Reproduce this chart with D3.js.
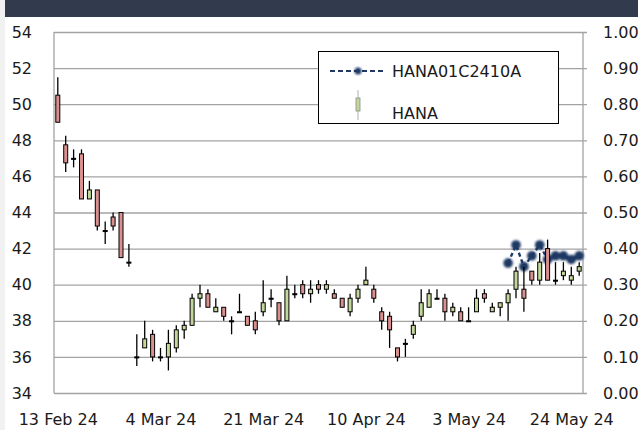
<!DOCTYPE html>
<html>
<head>
<meta charset="utf-8">
<script src="https://cdn.jsdelivr.net/npm/d3@7"></script>
<style>
  body { margin: 0; background: #fff; }
  text { font-family: "DejaVu Sans", sans-serif; fill: #1a1a1a; }
</style>
</head>
<body>
<div id="chart"></div>
<script>
// Trading days (SET), 13 Feb 24 .. 27 May 24
const dates = [
  "2024-02-13","2024-02-14","2024-02-15","2024-02-16","2024-02-19","2024-02-20","2024-02-21","2024-02-22","2024-02-23","2024-02-27",
  "2024-02-28","2024-02-29","2024-03-01","2024-03-04","2024-03-05","2024-03-06","2024-03-07","2024-03-08","2024-03-11","2024-03-12",
  "2024-03-13","2024-03-14","2024-03-15","2024-03-18","2024-03-19","2024-03-20","2024-03-21","2024-03-22","2024-03-25","2024-03-26",
  "2024-03-27","2024-03-28","2024-03-29","2024-04-01","2024-04-02","2024-04-03","2024-04-04","2024-04-05","2024-04-09","2024-04-10",
  "2024-04-11","2024-04-17","2024-04-18","2024-04-19","2024-04-22","2024-04-23","2024-04-24","2024-04-25","2024-04-26","2024-04-29",
  "2024-04-30","2024-05-02","2024-05-03","2024-05-07","2024-05-08","2024-05-09","2024-05-10","2024-05-13","2024-05-14","2024-05-15",
  "2024-05-16","2024-05-17","2024-05-20","2024-05-21","2024-05-23","2024-05-24","2024-05-27"
];

// HANA daily prices
const open  = [50.5,47.75,47,47.25,44.75,45.25,43,43.75,44,41.25, 36,36.5,37.25,36,36,36.5,37.5,37.75,39.25,39.5,
               38.5,38.75,38,38.5,38.25,38,38.5,39.25,39,38, 39.5,40,39.5,40,39.75,39.5,39.25,38.5,39.25,40,
               39.75,38.5,38.25,36.5,36.75,37.25,38.25,38.75,39.25,39.25, 38.5,38.5,38,38.5,39.5,38.5,38.75,39,39.75,39.75,
               40.75,40.25,42,40.25,40.5,40.25,40.75];
const high  = [51.5,48.25,47.5,47.5,45.75,45.25,43.5,44,44,42.25, 37.25,38,37.5,36.5,37.5,37.75,38,39.5,40,39.75,
               39.25,38.75,38.25,39.5,38.25,38.5,40.25,39.75,39,40.5, 40,40.25,40.25,40.25,40.25,39.75,39.25,39.5,40,41,
               40,38.75,38.5,36.5,37,38,39.75,39.75,39.75,39.5, 39,38.75,38.75,39.75,39.75,39,39,39.75,41,41,
               40.75,41.75,42.5,41.25,41.25,41,41.25];
const low   = [49,46.25,46.5,44.75,44.75,43,42.25,43,41.5,41, 35.5,36.5,35.75,35.75,35.25,36.25,37,37.75,38.75,38.75,
               38.5,38,37.25,38.5,37.75,37.25,38.25,38.75,37.75,38, 39.25,39.25,39,39.5,39.5,39.25,38.75,38.25,39,40,
               39,37.5,36.5,35.75,36,37,38,38.75,39.25,38, 38.25,38,38,38.5,39,38.5,38.25,38,39.25,38.5,
               40,40,40.25,40,40.25,40,40.5];
const close = [49,46.75,47,44.75,45.25,43.25,43,43.25,41.5,41.25, 36,37,36,36,36.75,37.5,37.75,39.25,39.5,38.75,
               38.75,38.25,38,38.5,37.75,37.5,39,39.25,38,39.75, 39.5,39.5,39.75,39.75,40,39.25,38.75,39.25,39.75,40.25,
               39.25,38,37.5,36,36.75,37.75,39,39.5,39.25,38.5, 38.75,38,38,39.25,39.25,38.75,39,39.5,40.75,39.25,
               40.25,41.25,40.25,40.25,40.75,40.5,41];

// HANA01C2410A (right axis)
const wrtDates  = ["2024-05-13","2024-05-14","2024-05-15","2024-05-16","2024-05-17","2024-05-20","2024-05-21","2024-05-23","2024-05-24","2024-05-27"];
const wrtValues = [0.36,0.41,0.35,0.38,0.41,0.37,0.38,0.38,0.37,0.38];

const leftTicks  = d3.range(34, 55, 2);
const rightTicks = d3.range(0, 1.0001, 0.1);
const xTickDates = ["2024-02-13","2024-03-04","2024-03-21","2024-04-10","2024-05-03","2024-05-24"];

const W = 638, H = 430;
const plotL = 54, plotR = 583, plotT = 32, plotB = 393;

const parse = d3.timeParse("%Y-%m-%d");
const fmt = d3.timeFormat("%-d %b %y");

const svg = d3.select("#chart").append("svg")
    .attr("width", W).attr("height", H);

// header band
svg.append("rect").attr("x", 0).attr("y", 0).attr("width", 5).attr("height", H).attr("fill", "#f1f1f1");
svg.append("rect").attr("x", 5).attr("y", 0).attr("width", W - 5).attr("height", 17).attr("fill", "#313b4d");

const x = d3.scalePoint().domain(dates).range([57.8, 579.2]);
const y = d3.scaleLinear().domain([34, 54]).range([plotB, plotT]);
const y2 = d3.scaleLinear().domain([0, 1]).range([plotB, plotT]);

// gridlines (extend 4px past right axis)
svg.append("g")
   .attr("transform", `translate(${plotL},0)`)
   .call(d3.axisRight(y).tickValues(leftTicks).tickSize(plotR - plotL + 4).tickFormat(""))
   .call(g => g.select(".domain").remove())
   .call(g => g.selectAll("line").attr("stroke", "#a3a3a3").attr("stroke-width", 1.3));

// vertical axis lines
[plotL, plotR].forEach(px => {
  svg.append("line").attr("x1", px).attr("x2", px).attr("y1", plotT).attr("y2", plotB)
     .attr("stroke", "#a3a3a3").attr("stroke-width", 1.3);
});

// left labels
svg.append("g")
   .attr("transform", `translate(${plotL},0)`)
   .call(d3.axisLeft(y).tickValues(leftTicks).tickSize(0).tickPadding(22))
   .call(g => g.select(".domain").remove())
   .selectAll("text").style("font-size", "16px").attr("fill", "#1a1a1a");

// right labels
svg.append("g")
   .attr("transform", `translate(${plotR},0)`)
   .call(d3.axisRight(y2).tickValues(rightTicks).tickSize(0).tickPadding(20).tickFormat(d3.format(".2f")))
   .call(g => g.select(".domain").remove())
   .selectAll("text").style("font-size", "16px").attr("fill", "#1a1a1a");

// bottom labels
svg.append("g")
   .attr("transform", `translate(0,${plotB})`)
   .call(d3.axisBottom(x).tickValues(xTickDates).tickSize(0).tickPadding(21).tickFormat(d => fmt(parse(d))))
   .call(g => g.select(".domain").remove())
   .selectAll("text").style("font-size", "16px").attr("fill", "#1a1a1a");

// blur for warrant markers
const defs = svg.append("defs");
defs.append("filter").attr("id", "soft")
    .append("feGaussianBlur").attr("stdDeviation", 0.9);

// warrant series (behind candles)
const wrt = wrtDates.map((d, i) => ({ d, v: wrtValues[i] }));
svg.append("path")
   .datum(wrt)
   .attr("fill", "none")
   .attr("stroke", "#1f3864")
   .attr("stroke-width", 2.4)
   .attr("stroke-dasharray", "4,3")
   .attr("d", d3.line().x(p => x(p.d)).y(p => y2(p.v)));
svg.append("g").attr("filter", "url(#soft)")
   .selectAll("circle").data(wrt).join("circle")
   .attr("cx", p => x(p.d)).attr("cy", p => y2(p.v)).attr("r", 4.8)
   .attr("fill", "#1f3864");

// candles
const bars = dates.map((d, i) => ({ d, o: open[i], h: high[i], l: low[i], c: close[i] }));
const cg = svg.append("g");
cg.selectAll("line").data(bars).join("line")
  .attr("x1", b => x(b.d)).attr("x2", b => x(b.d))
  .attr("y1", b => y(b.h)).attr("y2", b => y(b.l))
  .attr("stroke", "#000").attr("stroke-width", 1.3);
cg.selectAll("rect").data(bars).join("rect")
  .attr("x", b => x(b.d) - 2)
  .attr("width", 4)
  .attr("y", b => y(Math.max(b.o, b.c)))
  .attr("height", b => Math.max(1, Math.abs(y(b.o) - y(b.c))))
  .attr("fill", b => b.c > b.o ? "#c4d79b" : (b.c < b.o ? "#d9908f" : "#000"))
  .attr("stroke", "#000").attr("stroke-width", 1);

// legend
const lg = svg.append("g");
lg.append("rect").attr("x", 318.5).attr("y", 51.5).attr("width", 240).attr("height", 72)
  .attr("fill", "#fff").attr("stroke", "#000").attr("stroke-width", 1);
lg.append("line").attr("x1", 330).attr("x2", 384).attr("y1", 71).attr("y2", 71)
  .attr("stroke", "#1f3864").attr("stroke-width", 2).attr("stroke-dasharray", "5,3");
lg.append("circle").attr("cx", 358).attr("cy", 71).attr("r", 3.5).attr("fill", "#1f3864").attr("filter", "url(#soft)");
lg.append("text").attr("x", 392).attr("y", 71).attr("dy", "0.35em").style("font-size", "16px").text("HANA01C2410A");
lg.append("line").attr("x1", 358).attr("x2", 358).attr("y1", 90).attr("y2", 120)
  .attr("stroke", "#b0b0b0").attr("stroke-width", 1);
lg.append("rect").attr("x", 356).attr("y", 98).attr("width", 4).attr("height", 13)
  .attr("fill", "#c4d79b").attr("stroke", "#8a8a8a").attr("stroke-width", 0.8);
lg.append("text").attr("x", 392).attr("y", 113).attr("dy", "0.35em").style("font-size", "16px").text("HANA");
</script>
</body>
</html>
